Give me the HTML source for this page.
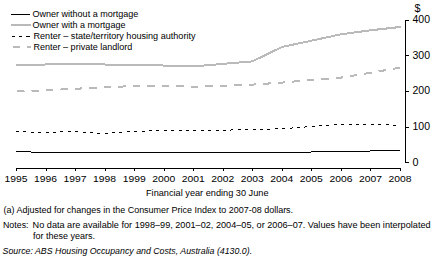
<!DOCTYPE html>
<html><head><meta charset="utf-8"><style>
html,body{margin:0;padding:0;background:#fff;width:435px;height:265px;overflow:hidden}
svg{display:block}
text{font-family:"Liberation Sans", sans-serif;fill:#000}
</style></head><body>
<svg width="435" height="265" viewBox="0 0 435 265" shape-rendering="crispEdges">
<line x1="11" y1="14.5" x2="30" y2="14.5" stroke="#000" stroke-width="1"/><line x1="11" y1="25" x2="31" y2="25" stroke="#bababa" stroke-width="2"/><path d="M12,36.5 H15 M19,36.5 H22 M26,36.5 H30" stroke="#000" stroke-width="1" fill="none"/><path d="M13,47 H20 M27,47 H31" stroke="#bababa" stroke-width="2" fill="none"/><text x="32.4" y="17" font-size="9.6" text-anchor="start" textLength="106" lengthAdjust="spacingAndGlyphs" >Owner without a mortgage</text>
<text x="32.4" y="28" font-size="9.6" text-anchor="start" textLength="93" lengthAdjust="spacingAndGlyphs" >Owner with a mortgage</text>
<text x="33.5" y="39" font-size="9.6" text-anchor="start" textLength="162" lengthAdjust="spacingAndGlyphs" >Renter – state/territory housing authority</text>
<text x="33.5" y="50" font-size="9.6" text-anchor="start" textLength="98.8" lengthAdjust="spacingAndGlyphs" >Renter – private landlord</text>
<path d="M16.5,171 V168.5 H400.5 V171" fill="none" stroke="#000" stroke-width="1"/><line x1="46.5" y1="168" x2="46.5" y2="171" stroke="#000"/><line x1="75.5" y1="168" x2="75.5" y2="171" stroke="#000"/><line x1="105.5" y1="168" x2="105.5" y2="171" stroke="#000"/><line x1="134.5" y1="168" x2="134.5" y2="171" stroke="#000"/><line x1="164.5" y1="168" x2="164.5" y2="171" stroke="#000"/><line x1="193.5" y1="168" x2="193.5" y2="171" stroke="#000"/><line x1="223.5" y1="168" x2="223.5" y2="171" stroke="#000"/><line x1="252.5" y1="168" x2="252.5" y2="171" stroke="#000"/><line x1="282.5" y1="168" x2="282.5" y2="171" stroke="#000"/><line x1="311.5" y1="168" x2="311.5" y2="171" stroke="#000"/><line x1="341.5" y1="168" x2="341.5" y2="171" stroke="#000"/><line x1="370.5" y1="168" x2="370.5" y2="171" stroke="#000"/><path d="M409,20.5 H405.5 V162.5 H409" fill="none" stroke="#000" stroke-width="1"/><line x1="405" y1="55.5" x2="409" y2="55.5" stroke="#000"/><line x1="405" y1="91.5" x2="409" y2="91.5" stroke="#000"/><line x1="405" y1="127.5" x2="409" y2="127.5" stroke="#000"/><text x="414.5" y="11.8" font-size="10.8" text-anchor="start" >$</text>
<text x="412.5" y="23.3" font-size="10" text-anchor="start" textLength="17.5" lengthAdjust="spacingAndGlyphs" >400</text>
<text x="412.5" y="59.3" font-size="10" text-anchor="start" textLength="17.5" lengthAdjust="spacingAndGlyphs" >300</text>
<text x="412.5" y="94.3" font-size="10" text-anchor="start" textLength="17.5" lengthAdjust="spacingAndGlyphs" >200</text>
<text x="412.5" y="130.3" font-size="10" text-anchor="start" textLength="17.5" lengthAdjust="spacingAndGlyphs" >100</text>
<text x="412.5" y="166.3" font-size="10" text-anchor="start" textLength="6" lengthAdjust="spacingAndGlyphs" >0</text>
<text x="4.5" y="182" font-size="9.6" text-anchor="start" textLength="23" lengthAdjust="spacingAndGlyphs" >1995</text>
<text x="34.03846153846154" y="182" font-size="9.6" text-anchor="start" textLength="23" lengthAdjust="spacingAndGlyphs" >1996</text>
<text x="63.57692307692308" y="182" font-size="9.6" text-anchor="start" textLength="23" lengthAdjust="spacingAndGlyphs" >1997</text>
<text x="93.11538461538461" y="182" font-size="9.6" text-anchor="start" textLength="23" lengthAdjust="spacingAndGlyphs" >1998</text>
<text x="122.65384615384616" y="182" font-size="9.6" text-anchor="start" textLength="23" lengthAdjust="spacingAndGlyphs" >1999</text>
<text x="152.1923076923077" y="182" font-size="9.6" text-anchor="start" textLength="23" lengthAdjust="spacingAndGlyphs" >2000</text>
<text x="181.73076923076923" y="182" font-size="9.6" text-anchor="start" textLength="23" lengthAdjust="spacingAndGlyphs" >2001</text>
<text x="211.26923076923077" y="182" font-size="9.6" text-anchor="start" textLength="23" lengthAdjust="spacingAndGlyphs" >2002</text>
<text x="240.80769230769232" y="182" font-size="9.6" text-anchor="start" textLength="23" lengthAdjust="spacingAndGlyphs" >2003</text>
<text x="270.34615384615387" y="182" font-size="9.6" text-anchor="start" textLength="23" lengthAdjust="spacingAndGlyphs" >2004</text>
<text x="299.8846153846154" y="182" font-size="9.6" text-anchor="start" textLength="23" lengthAdjust="spacingAndGlyphs" >2005</text>
<text x="329.42307692307696" y="182" font-size="9.6" text-anchor="start" textLength="23" lengthAdjust="spacingAndGlyphs" >2006</text>
<text x="358.96153846153845" y="182" font-size="9.6" text-anchor="start" textLength="23" lengthAdjust="spacingAndGlyphs" >2007</text>
<text x="388.5" y="182" font-size="9.6" text-anchor="start" textLength="23" lengthAdjust="spacingAndGlyphs" >2008</text>
<text x="146" y="196" font-size="9.6" text-anchor="start" textLength="122.5" lengthAdjust="spacingAndGlyphs" >Financial year ending 30 June</text>
<path d="M16,151.5 L45.5,152.5 L311,152.5 M311,151.5 L370,151.5 M370,150.5 L400,150.5" fill="none" stroke="#000" stroke-width="1"/><polyline points="16.00,131.50 45.54,132.50 75.08,131.50 104.62,133.50 134.15,131.50 163.69,130.50 193.23,130.50 222.77,130.20 252.31,129.50 281.85,128.80 311.38,126.50 340.92,124.50 370.46,124.50 400.00,125.20" fill="none" stroke="#000" stroke-width="1" stroke-dasharray="3 4.4"/><polyline points="16.00,91.20 45.54,90.30 75.08,88.80 104.62,87.20 134.15,86.10 163.69,86.00 193.23,86.60 222.77,86.00 252.31,84.60 281.85,82.60 311.38,80.00 340.92,77.60 370.46,72.80 400.00,67.60" fill="none" stroke="#bababa" stroke-width="2" stroke-dasharray="7.5 7" stroke-dashoffset="-1"/><path d="M16,65 L45,65 M45,64 L105,64 M105,65 L163,65 M163,66 L193.2,66.45 L222.8,63.9 L252.3,61.4 L281.9,47 L311.4,40.7 L340.9,34.3 L370.5,30.3 L401,26.9" fill="none" stroke="#bababa" stroke-width="2"/><text x="3.6" y="213" font-size="9.6" text-anchor="start" textLength="289.5" lengthAdjust="spacingAndGlyphs" >(a) Adjusted for changes in the Consumer Price Index to 2007-08 dollars.</text>
<text x="3" y="228" font-size="9.6" text-anchor="start" textLength="25.5" lengthAdjust="spacingAndGlyphs" >Notes:</text>
<text x="32.6" y="228" font-size="9.6" text-anchor="start" textLength="398" lengthAdjust="spacingAndGlyphs" >No data are available for 1998–99, 2001–02, 2004–05, or 2006–07. Values have been interpolated</text>
<text x="33" y="239" font-size="9.6" text-anchor="start" textLength="62" lengthAdjust="spacingAndGlyphs" >for these years.</text>
<text x="2.6" y="253.6" font-size="9.6" text-anchor="start" textLength="249.5" lengthAdjust="spacingAndGlyphs" font-style="italic">Source: ABS Housing Occupancy and Costs, Australia (4130.0).</text>

</svg>
</body></html>
